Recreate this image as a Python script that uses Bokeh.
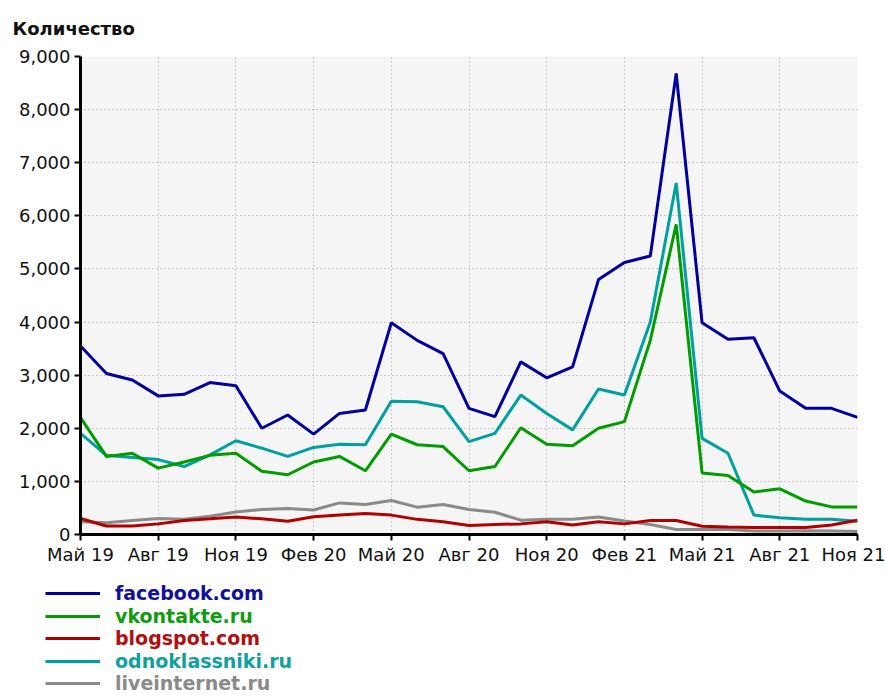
from bokeh.plotting import figure
from bokeh.layouts import column
from bokeh.models import (Range1d, FixedTicker, NumeralTickFormatter, Legend,
                          LegendItem, ColumnDataSource)
from bokeh.embed import file_html
from bokeh.resources import INLINE

# ---------------- data ----------------
months = ["2019-05", "2019-06", "2019-07", "2019-08", "2019-09", "2019-10", "2019-11",
          "2019-12", "2020-01", "2020-02", "2020-03", "2020-04", "2020-05", "2020-06",
          "2020-07", "2020-08", "2020-09", "2020-10", "2020-11", "2020-12", "2021-01",
          "2021-02", "2021-03", "2021-04", "2021-05", "2021-06", "2021-07", "2021-08",
          "2021-09", "2021-10", "2021-11"]
tick_months = ["2019-05", "2019-08", "2019-11", "2020-02", "2020-05", "2020-08",
               "2020-11", "2021-02", "2021-05", "2021-08", "2021-11"]
tick_labels = ["Май 19", "Авг 19", "Ноя 19", "Фев 20", "Май 20", "Авг 20",
               "Ноя 20", "Фев 21", "Май 21", "Авг 21", "Ноя 21"]
y_ticks = [0, 1000, 2000, 3000, 4000, 5000, 6000, 7000, 8000, 9000]

facebook = [3550, 3030, 2910, 2610, 2640, 2860, 2800, 2000, 2250, 1890, 2280, 2345,
            3985, 3655, 3405, 2375, 2220, 3250, 2950, 3155, 4800, 5120, 5245, 8680,
            3985, 3675, 3705, 2700, 2375, 2375, 2205]
vkontakte = [2200, 1470, 1530, 1250, 1365, 1490, 1530, 1190, 1125, 1365, 1470, 1200,
             1890, 1690, 1655, 1200, 1280, 2010, 1700, 1670, 2000, 2125, 3655, 5840,
             1160, 1110, 800, 860, 630, 520, 520]
blogspot = [300, 160, 160, 200, 265, 295, 330, 295, 250, 335, 365, 395,
            365, 285, 240, 170, 190, 200, 240, 180, 240, 200, 265, 265,
            155, 140, 130, 130, 130, 180, 270]
odnoklassniki = [1905, 1490, 1450, 1410, 1280, 1500, 1765, 1625, 1470, 1640, 1700, 1690,
                 2510, 2500, 2405, 1750, 1905, 2625, 2280, 1970, 2740, 2625, 4000, 6620,
                 1810, 1530, 365, 315, 285, 285, 250]
liveinternet = [240, 220, 265, 300, 285, 345, 425, 470, 490, 460, 595, 565,
                640, 515, 565, 470, 420, 270, 285, 285, 330, 255, 190, 95,
                95, 95, 65, 65, 70, 65, 55]

series_names = ["facebook.com", "vkontakte.ru", "blogspot.com", "odnoklassniki.ru", "liveinternet.ru"]
series_values = [facebook, vkontakte, blogspot, odnoklassniki, liveinternet]
series_colors = ["#0000a0", "#009c00", "#b00000", "#00a0a0", "#8a8a8a"]
label_colors = ["#1010a0", "#109c10", "#b01010", "#10a0a0", "#8a8a8a"]

FONT = "DejaVu Sans"
x_idx = list(range(len(months)))

# ---------------- main chart ----------------
p = figure(output_backend="svg", toolbar_location=None,
           frame_width=777, frame_height=478,
           min_border_left=80, min_border_right=28, min_border_top=56, min_border_bottom=37,
           x_range=Range1d(0, len(months) - 1), y_range=Range1d(0, 9000),
           background_fill_color="#f5f5f5", border_fill_color="white",
           title="Количество")
p.outline_line_color = None
p.title.align = "left"
p.title.offset = -68
p.title.standoff = 32
p.title.vertical_align = "top"
p.title.text_font = FONT
p.title.text_font_style = "bold"
p.title.text_font_size = "18px"
p.title.text_color = "#111111"

tick_pos = [months.index(m) for m in tick_months]
p.xaxis.ticker = FixedTicker(ticks=tick_pos, minor_ticks=[])
p.xaxis.major_label_overrides = {t: l for t, l in zip(tick_pos, tick_labels)}
p.yaxis.ticker = FixedTicker(ticks=y_ticks, minor_ticks=[])
p.yaxis.formatter = NumeralTickFormatter(format="0,0")

for ax in (p.xaxis[0], p.yaxis[0]):
    ax.axis_line_width = 3
    ax.axis_line_color = "black"
    ax.major_tick_line_color = "black"
    ax.major_tick_line_width = 2
    ax.major_tick_in = 0
    ax.major_tick_out = 6
    ax.minor_tick_line_color = None
    ax.major_label_text_font = FONT
    ax.major_label_text_font_size = "18px"
    ax.major_label_text_color = "#111111"
p.yaxis.major_label_standoff = 4
p.xaxis.major_label_standoff = 3

for g in (p.xgrid[0], p.ygrid[0]):
    g.grid_line_color = "#9a9a9a"
    g.grid_line_dash = "1 3"
    g.grid_line_width = 1

for vals, col in zip(series_values[::-1], series_colors[::-1]):
    src = ColumnDataSource(dict(x=x_idx, y=vals))
    p.line("x", "y", source=src, line_color=col, line_width=3)

# ---------------- legend strip ----------------
# (the series are drawn here again, but fall outside this strip's ranges, so only
#  the legend glyphs show)
LH = 125
lp = figure(output_backend="svg", toolbar_location=None,
            frame_width=885, frame_height=LH, min_border=0,
            x_axis_type=None, y_axis_type=None,
            x_range=Range1d(-3, -2), y_range=Range1d(-3, -2),
            background_fill_color="white", border_fill_color="white")
lp.outline_line_color = None
lp.xgrid.visible = False
lp.ygrid.visible = False

row_gap = 22.6
first_center = 23
for i, (name, vals, col, lc) in enumerate(zip(series_names, series_values,
                                              series_colors, label_colors)):
    src = ColumnDataSource(dict(x=x_idx, y=vals))
    r = lp.line("x", "y", source=src, line_color=col, line_width=3)
    center_from_bottom = LH - (first_center + i * row_gap)
    lg = Legend(items=[LegendItem(label=name, renderers=[r])],
                location=(45, center_from_bottom - 10),
                glyph_width=55, glyph_height=20, label_height=20,
                label_standoff=15, padding=0, margin=0, spacing=0,
                label_text_color=lc, label_text_font=FONT,
                label_text_font_style="bold", label_text_font_size="19px",
                border_line_alpha=0, background_fill_alpha=0)
    lp.add_layout(lg)

layout = column(p, lp, spacing=0)
open("out.html", "w").write(file_html(layout, INLINE))
